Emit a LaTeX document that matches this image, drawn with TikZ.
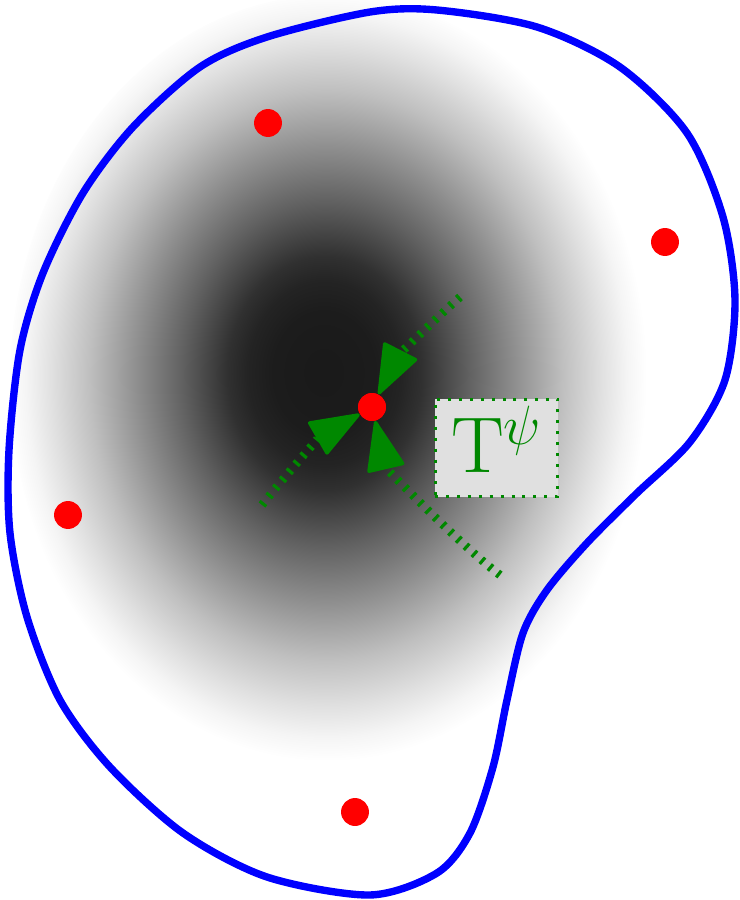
\RequirePackage{fix-cm}
\documentclass[tikz,border=0pt]{standalone}
\usetikzlibrary{arrows.meta}
\definecolor{tgreen}{RGB}{0,136,0}
\definecolor{boxgray}{RGB}{224,224,224}
\pgfdeclareradialshading{blobshade}{\pgfpoint{-0.5bp}{0.5bp}}{%
  color(0bp)=(black!90); color(4bp)=(black!89); color(6bp)=(black!86);
  color(7.6bp)=(black!81); color(11.2bp)=(black!62); color(14.8bp)=(black!44);
  color(18.5bp)=(black!25); color(21.5bp)=(black!12); color(23.5bp)=(black!4);
  color(25bp)=(white); color(50bp)=(white)}
\tikzset{
  blob/.style={draw=blue, line width=4.2pt},
  reddot/.style={circle, fill=red, inner sep=0pt, minimum size=15.9pt},
  geo/.style={draw=tgreen, line width=4.8pt, dash pattern=on 1.8pt off 4.2pt,
    -{Triangle[round, length=30pt, width=22pt, line width=2pt, color=tgreen, fill=tgreen]}},
  tbox/.style={draw=tgreen, fill=boxgray, line width=1.7pt, dash pattern=on 1.7pt off 4.5pt,
    minimum width=69.7pt, minimum height=55.6pt, inner sep=0pt, text=tgreen,
    font=\fontsize{45}{50}\selectfont, text height=28.3pt, text depth=0pt}
}
\begin{document}
\begin{tikzpicture}[x=0.02cm, y=-0.02cm]
\useasboundingbox (0,0) rectangle (740,900);
% shading
\shade[shading=blobshade] (330,380) ellipse [x radius=6.4cm, y radius=7.7cm];
% outline
\draw[blob] plot[smooth cycle] coordinates {
 (437,10) (537,27) (620,67) (687,133) (723,217) (735,300) (725,380) (690,442)
 (636,494) (587,543) (547,590) (523,633) (507,700) (493,767) (470,833) (437,873)
 (370,895) (267,877) (183,833) (110,767) (60,700) (27,617) (10,533) (9,450)
 (20,350) (43,273) (83,193) (133,127) (200,67) (267,37) (370,12)};
% points
\node[reddot] (p1) at (268,123) {};
\node[reddot] (p2) at (665,242) {};
\node[reddot] (p3) at (68,515) {};
\node[reddot] (p4) at (355,812) {};
\node[reddot] (c) at (372,407) {};
% curves
\coordinate (a0) at (262,505);
\coordinate (a1) at (289,471);
\coordinate (a2) at (320,437);
\coordinate (b0) at (460,297);
\coordinate (b1) at (423,330);
\coordinate (b2) at (397,358);
\coordinate (d0) at (500,575);
\coordinate (d1) at (460,545);
\coordinate (d2) at (386,468);
\draw[geo] (a0) .. controls (a1) and (a2) .. (c);
\draw[geo] (b0) .. controls (b1) and (b2) .. (c);
\draw[geo] (d0) .. controls (d1) and (d2) .. (c);
\node[reddot] at (c) {};
% label
\node[tbox] (lbl) at (496.5,448) {$\mathrm{T}^{\psi}$};
\end{tikzpicture}
\end{document}
